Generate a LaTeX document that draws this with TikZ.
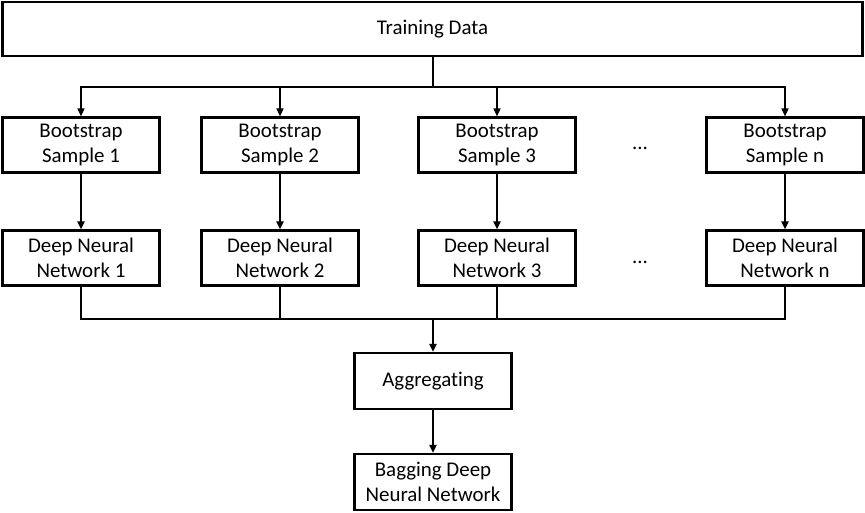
\documentclass[tikz,border=0pt]{standalone}
\usepackage{fontspec}
\setmainfont{Carlito}[Ligatures=NoCommon]
\usepackage{tikz}
\usetikzlibrary{arrows.meta,positioning}

\tikzset{
    box/.style={draw,rectangle,line width=1.3pt,minimum width=3.14cm,minimum height=1.1cm,
        align=center,inner sep=0pt,font=\fontsize{11.9}{14.4}\selectfont},
    link/.style={line width=0.7pt},
    flow/.style={line width=1.2pt},
    tip/.style={-{Triangle[length=4.5pt,width=4pt]}}
}

\begin{document}
\begin{tikzpicture}[x=0.02cm,y=-0.02cm]
    \useasboundingbox (0,0) rectangle (865,512);
    % Top
    \node[box,minimum width=17.2cm,minimum height=1.08cm] (train) at (432.5,29) {Training Data};

    % Bootstrap samples and networks
    \node[box] (boot1) at (81,145) {Bootstrap\\Sample 1};
    \node[box] (boot2) at (280,145) {Bootstrap\\Sample 2};
    \node[box] (boot3) at (497,145) {Bootstrap\\Sample 3};
    \node[box] (bootn) at (785,145) {Bootstrap\\Sample n};
    \node[box] (dnn1) at (81,258) {Deep Neural\\Network 1};
    \node[box] (dnn2) at (280,258) {Deep Neural\\Network 2};
    \node[box] (dnn3) at (497,258) {Deep Neural\\Network 3};
    \node[box] (dnnn) at (785,258) {Deep Neural\\Network n};
    \node[font=\fontsize{11.9}{14.4}\selectfont] (dots1) at (640,148) {...};
    \node[font=\fontsize{11.9}{14.4}\selectfont] (dots2) at (640,262) {...};

    % Bottom
    \node[box,minimum height=1.12cm] (agg) at (433,381) {Aggregating};
    \node[box,minimum height=1.12cm] (bag) at (433,482) {Bagging Deep\\Neural Network};

    % Connections
    \coordinate (split) at (433,87);
    \coordinate (merge) at (433,319);
    \draw[flow] (train.south -| split) -- (split);
    \foreach \i in {1,2,3,n} {
        \draw[link,tip] (split) -| (boot\i.north);
        \draw[flow,tip] (boot\i) -- (dnn\i);
        \draw[link] (dnn\i.south) |- (merge);
    }
    \draw[flow,tip] (merge) -- (agg.north);
    \draw[flow,tip] (agg) -- (bag);
\end{tikzpicture}
\end{document}
